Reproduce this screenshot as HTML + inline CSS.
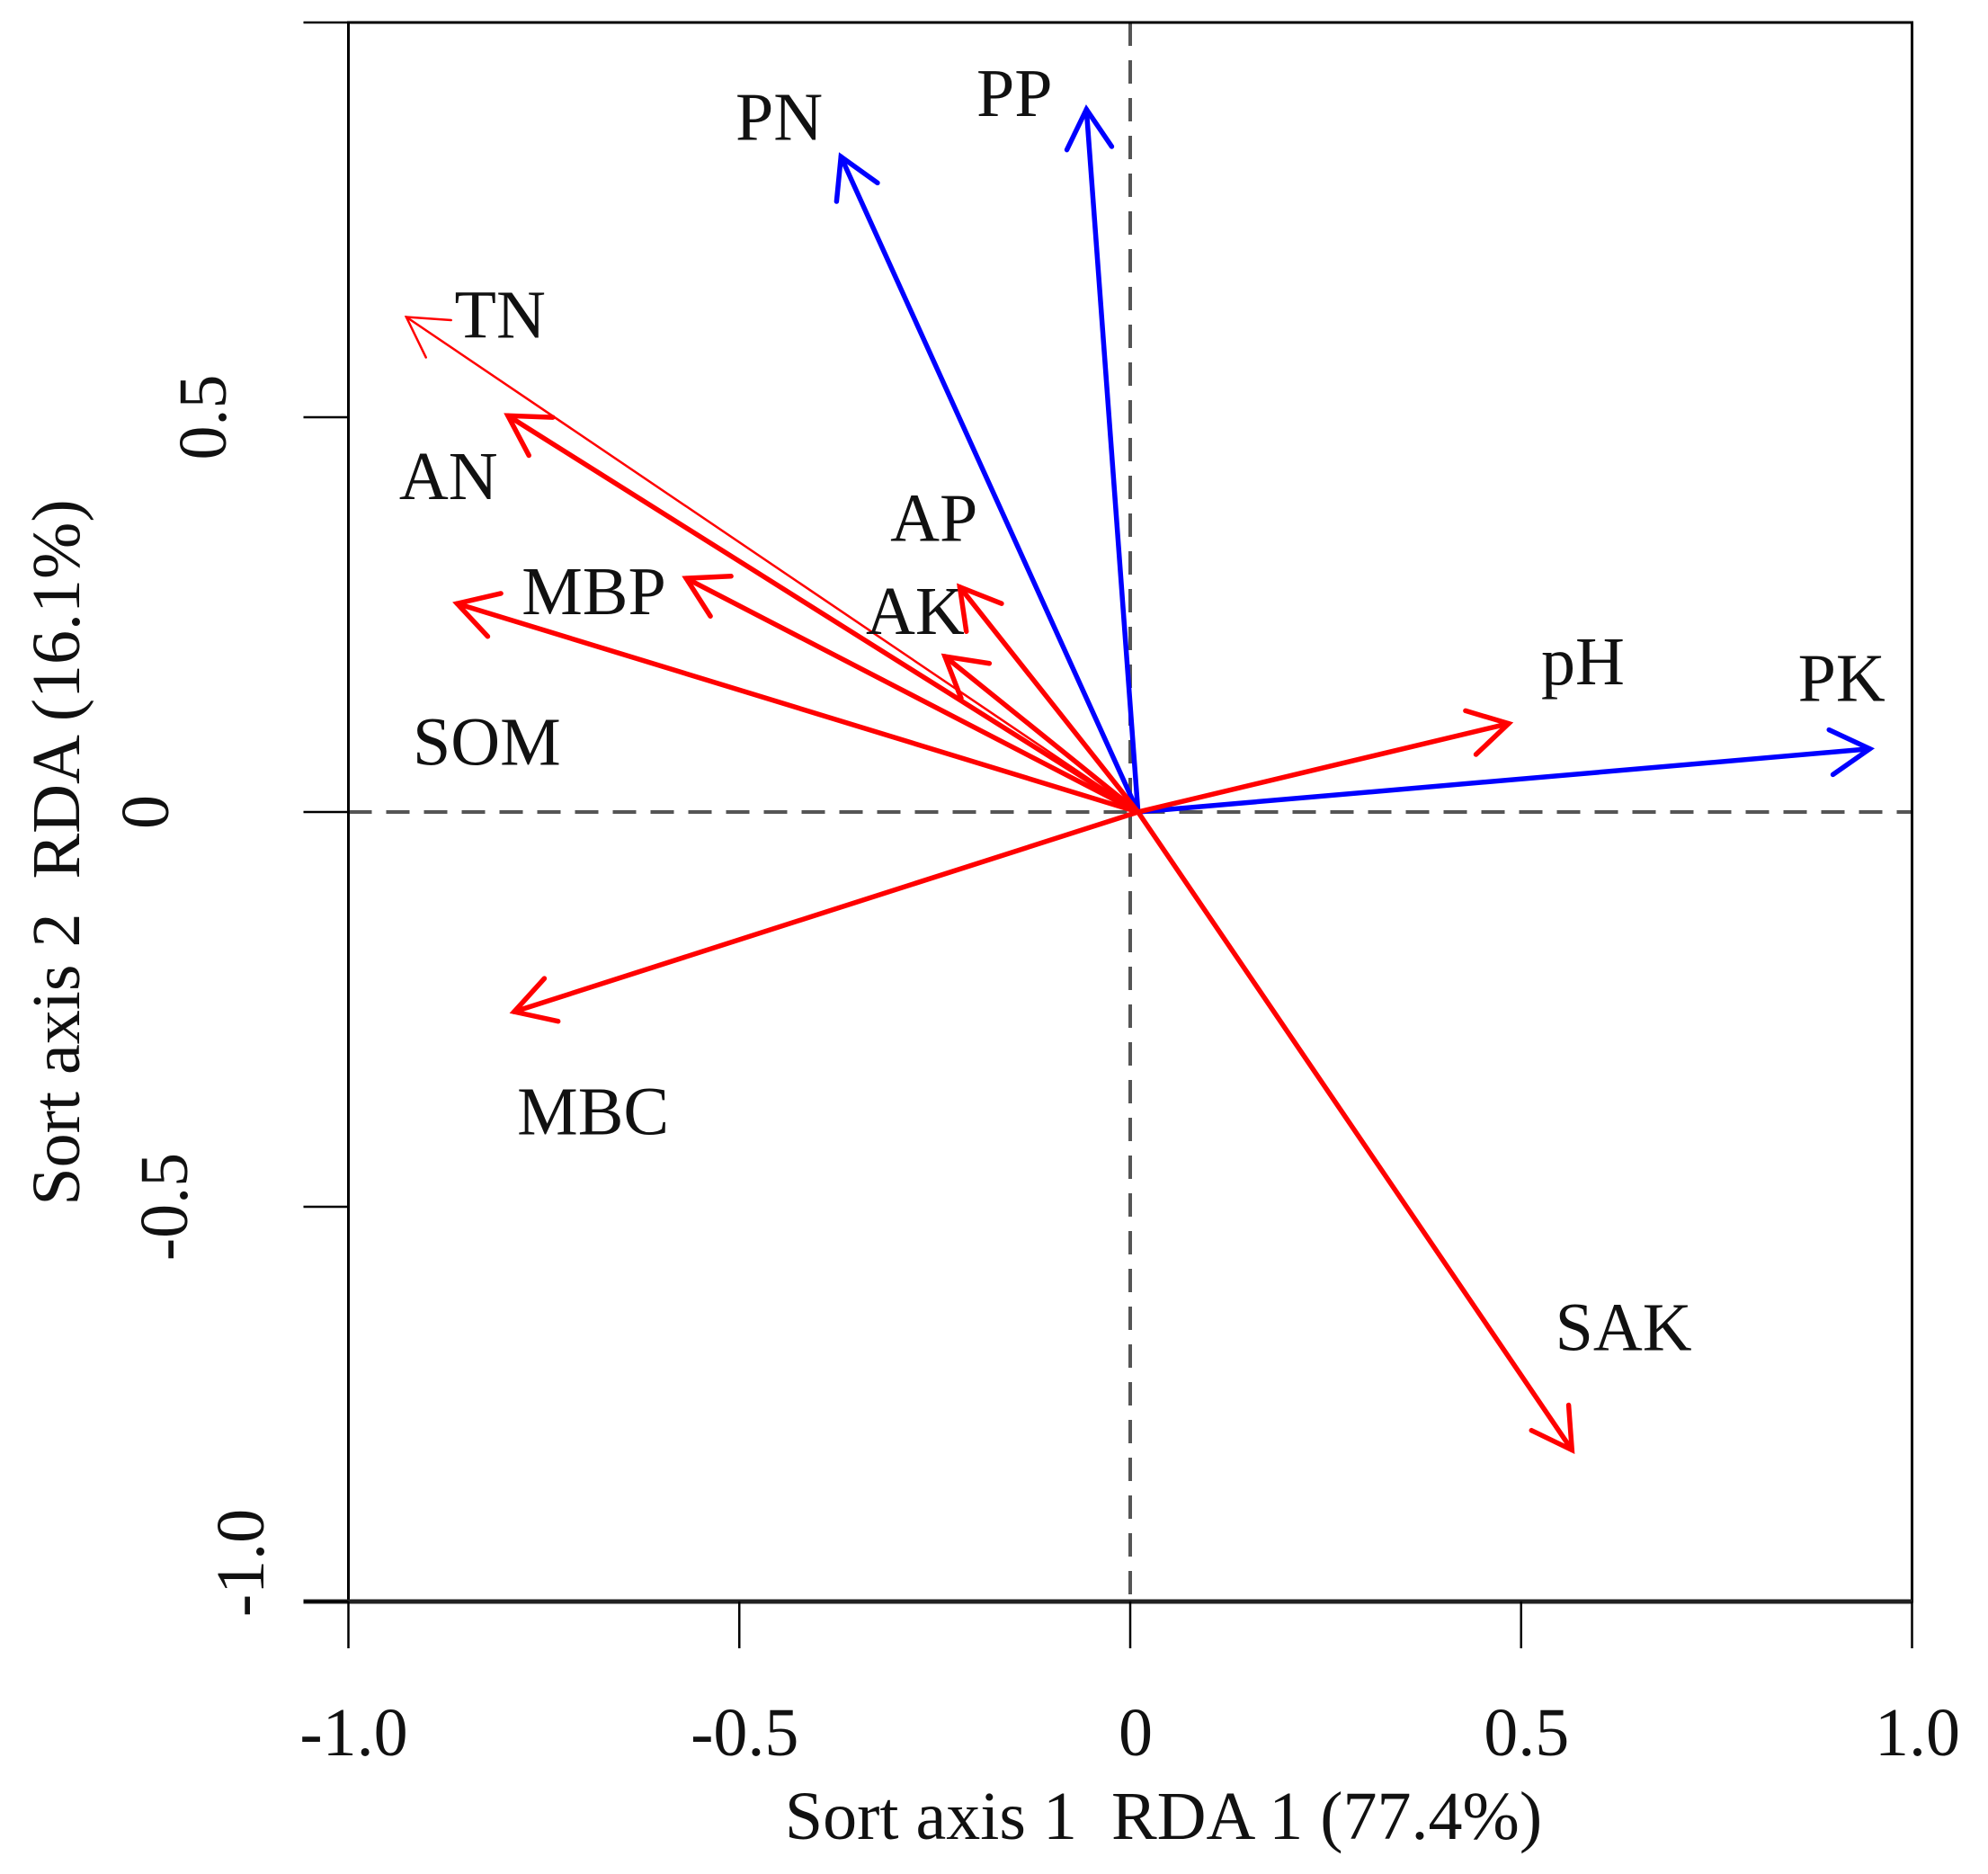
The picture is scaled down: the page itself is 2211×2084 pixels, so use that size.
<!DOCTYPE html>
<html><head><meta charset="utf-8"><style>
html,body{margin:0;padding:0;background:#fff;}
svg{display:block;font-family:"Liberation Serif",serif;}
text{white-space:pre;}
</style></head><body>
<svg id="chart" width="2211" height="2084" viewBox="0 0 2211 2084" xmlns="http://www.w3.org/2000/svg"></svg>
<script>
const names = ["PN","PP","PK","TN","AN","SOM","MBP","AK","AP","pH","MBC","SAK"];
const xVals = [-0.37,-0.056,0.946,-0.926,-0.796,-0.861,-0.568,-0.237,-0.218,0.484,-0.788,0.565];
const yVals = [0.83,0.89,0.08,0.627,0.502,0.264,0.296,0.197,0.285,0.112,-0.253,-0.808];
const groups = ["blue","blue","blue","thin","red","red","red","red","red","red","red","red"];
const labelX = [-0.449,-0.148,0.91,-0.806,-0.872,-0.823,-0.686,-0.275,-0.251,0.579,-0.687,0.631];
const labelY = [0.88,0.91,0.169,0.629,0.425,0.088,0.279,0.254,0.372,0.19,-0.38,-0.653];
const xTicks = [-1.0,-0.5,0,0.5,1.0];
const xTickLabels = ["-1.0","-0.5","0","0.5","1.0"];
const yTicks = [-1.0,-0.5,0,0.5,1.0];
const yTickLabels = ["-1.0","-0.5","0","0.5",""];

const svg = document.getElementById('chart');
const NS = "http://www.w3.org/2000/svg";
const xs = v => 1257 + v*869.5;
const ys = v => 903 - v*878;
function mk(tag, attrs, parent){
  const e = document.createElementNS(NS, tag);
  for (const k in attrs) e.setAttribute(k, attrs[k]);
  (parent||svg).appendChild(e); return e;
}
let l = mk('line',{x1:xs(-1),y1:ys(0),x2:xs(1),y2:ys(0),stroke:'#555','stroke-width':4,'stroke-dasharray':'26,16'});


l = mk('line',{x1:xs(0),y1:ys(1),x2:xs(0),y2:ys(-1),stroke:'#555','stroke-width':4,'stroke-dasharray':'26,16'});


let fr = mk('rect',{x:xs(-1),y:ys(1),width:xs(1)-xs(-1),height:ys(-1)-ys(1),fill:'none',stroke:'#000','stroke-width':3});


let ax = mk('line',{x1:xs(-1)-50,y1:ys(-1),x2:xs(1),y2:ys(-1),stroke:'#222','stroke-width':5});


xTicks.forEach((t,i)=>{
  const tk = mk('line',{x1:xs(t),y1:ys(-1),x2:xs(t),y2:ys(-1)+52,stroke:'#000','stroke-width':2.5});
  
  
  const tx = mk('text',{x:xs(t)+6,y:1952,'font-size':76,'text-anchor':'middle',fill:'#111'});
  tx.textContent = xTickLabels[i];
  
  
});
const yLabelPosX = [268,183,162,226,0];
yTicks.forEach((t,i)=>{
  const tk = mk('line',{x1:xs(-1)-50,y1:ys(t),x2:xs(-1),y2:ys(t),stroke:'#000','stroke-width':2.5});
  
  
  if (yTickLabels[i]) {
    const cx = yLabelPosX[i], cy = ys(t) - (t===-1?43:0);
    const tx = mk('text',{x:cx,y:cy,'font-size':76,'text-anchor':'middle','dominant-baseline':'central',fill:'#111',transform:`rotate(-90 ${cx} ${cy})`});
    tx.textContent = yTickLabels[i];
    
    
  }
});
let xt = mk('text',{x:1294,y:2045,'font-size':76,'text-anchor':'middle',fill:'#111'});
xt.textContent = "Sort axis 1  RDA 1 (77.4%)";


let yt = mk('text',{x:63,y:948,'font-size':76,'text-anchor':'middle','dominant-baseline':'central',fill:'#111',transform:'rotate(-90 63 948)'});
yt.textContent = "Sort axis 2  RDA (16.1%)";


const ox = xs(0.01), oy = ys(0);
names.forEach((n,i)=>{
  const color = groups[i]==='blue' ? '#0000ff' : '#ff0000';
  const w = groups[i]==='thin' ? 2.5 : 5.5;
  const g = mk('g',{stroke:color,'stroke-width':w,fill:'none','stroke-linecap':'round'});
  
  
  const tx2 = xs(xVals[i]), ty2 = ys(yVals[i]);
  mk('line',{x1:ox,y1:oy,x2:tx2,y2:ty2},g);
  const ang = Math.atan2(ty2-oy, tx2-ox);
  const L = 50, a = Math.PI/6;
  const p1 = [tx2 - L*Math.cos(ang-a), ty2 - L*Math.sin(ang-a)];
  const p2 = [tx2 - L*Math.cos(ang+a), ty2 - L*Math.sin(ang+a)];
  mk('polyline',{points:`${p1[0]},${p1[1]} ${tx2},${ty2} ${p2[0]},${p2[1]}`},g);
  const lb = mk('text',{x:xs(labelX[i]),y:ys(labelY[i]),'font-size':76,'text-anchor':'middle','dominant-baseline':'central',fill:'#111'});
  lb.textContent = n;
  
  
});
</script>
</body></html>
